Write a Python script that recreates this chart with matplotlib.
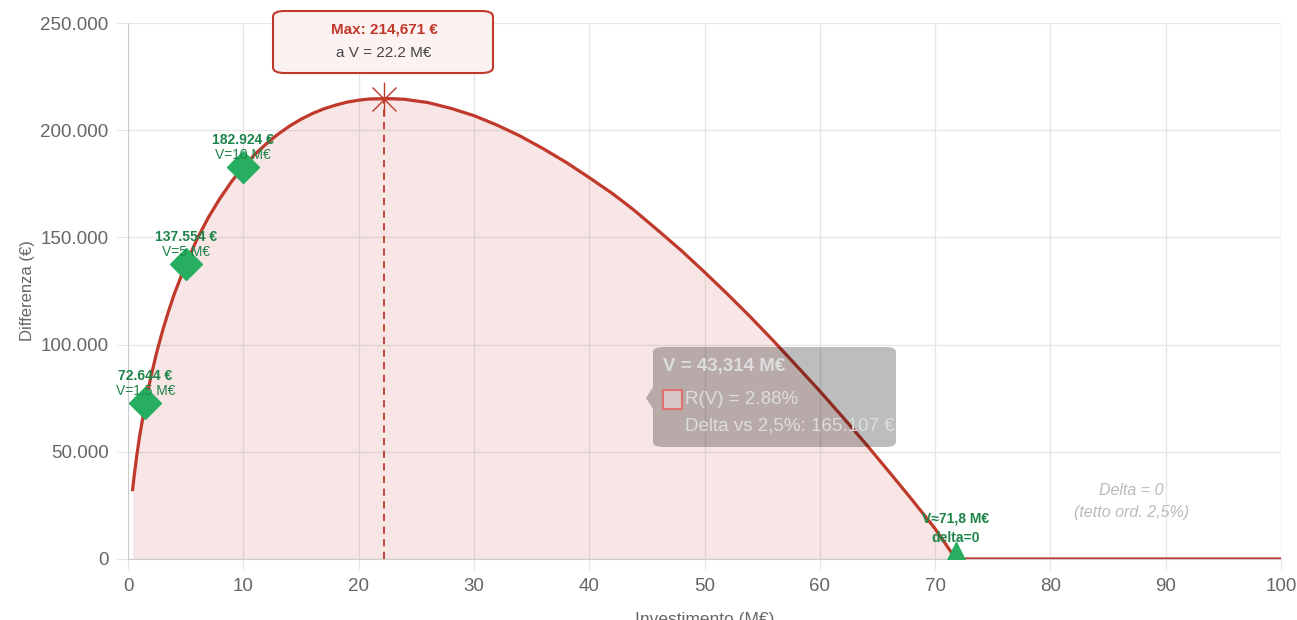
import numpy as np
import matplotlib.pyplot as plt
from matplotlib.patches import FancyBboxPatch
from matplotlib.ticker import FuncFormatter

plt.rcParams['font.family'] = ['Liberation Sans', 'DejaVu Sans']

# curve: investment (M€) -> difference (€)
inv = [0.4, 0.5, 0.75, 1, 1.5, 2, 2.5, 3, 3.5, 4, 5, 6, 7, 8, 9, 10,
       11, 12, 13, 14, 15, 16, 17, 18, 19, 20, 21, 22.2, 23, 24, 26, 28, 30,
       32, 34, 36, 38, 40, 42, 43.314, 44, 46, 48, 50, 52, 54, 56, 58, 60,
       62, 64, 66, 68, 70, 71.8,
       75, 80, 85, 90, 95, 100]
diff = [32400, 37300, 47900, 57100, 72600, 85400, 96600, 106500, 115300, 123400,
        137400, 149400, 159600, 168400, 176200, 182900,
        188700, 193700, 198100, 201900, 205100, 207800, 210000, 211700, 213100,
        214000, 214600, 214700, 214700, 214400, 212900, 210200, 206800,
        202400, 197300, 191400, 185000, 177900, 170500, 165107, 162200, 153100,
        143800, 133800, 123500, 112800, 101600, 90000, 78300,
        66100, 53600, 40700, 27600, 14100, 0,
        0, 0, 0, 0, 0, 0]

# highlighted points
pt_v = [1.5, 5, 10]
pt_d = [72644, 137554, 182924]
pt_val_lbl = ['72.644 €', '137.554 €', '182.924 €']
pt_v_lbl = ['V=1,5 M€', 'V=5 M€', 'V=10 M€']

zero_v = 71.8
max_v, max_d = 22.2, 214671
tip_v, tip_d = 43.314, 165107

red = '#c0392b'
green = '#27ae60'
dgreen = '#1e8449'
grid = '#e6e6e6'

fig = plt.figure(figsize=(12.97, 6.2), dpi=100)
ax = fig.add_axes([0.0987, 0.0984, 0.889, 0.8645])

inv = np.array(inv)
diff = np.array(diff)
pos = inv <= zero_v
ax.fill_between(inv[pos], 0, diff[pos], color=red, alpha=0.12, lw=0, zorder=1)
ax.plot(inv, diff, color=red, lw=2.3, zorder=3, solid_joinstyle='round')

# max marker + dashed line
ax.plot([max_v, max_v], [0, max_d], color=red, lw=1.3, ls=(0, (4, 3)), zorder=2)
ax.plot(max_v, max_d, marker='+', ms=24, mew=1, color=red, zorder=4)
ax.plot(max_v, max_d, marker='x', ms=17, mew=1, color=red, zorder=4)

# max box (figure level so it sits above the plot)
mx = 0.0987 + 0.889 * max_v / 100
box = FancyBboxPatch((273 / 1297, (620 - 73) / 620), 220 / 1297, 62 / 620,
                     boxstyle='round,pad=0,rounding_size=0.009', transform=fig.transFigure,
                     facecolor='#fdf2f2', edgecolor=red, lw=1.5, zorder=5)
fig.patches.append(box)
fig.text(mx, (620 - 29) / 620, 'Max: 214,671 €', ha='center', va='center',
         fontsize=11, fontweight='bold', color=red, zorder=6)
fig.text(mx, (620 - 53) / 620, 'a V = 22.2 M€', ha='center', va='center',
         fontsize=11, color='#444444', zorder=6)

# green points
ax.plot(pt_v, pt_d, ls='none', marker='D', ms=16, color=green, zorder=5)
for v, d, a, b in zip(pt_v, pt_d, pt_val_lbl, pt_v_lbl):
    ax.annotate(a, (v, d), xytext=(0, 27), textcoords='offset pixels', ha='center',
                va='center', fontsize=10, fontweight='bold', color=dgreen, zorder=6)
    ax.annotate(b, (v, d), xytext=(0, 12), textcoords='offset pixels', ha='center',
                va='center', fontsize=10, color=dgreen, zorder=6)

ax.plot(zero_v, 0, marker='^', ms=25, color=green, zorder=5, clip_on=True)
ax.annotate('V≈71,8 M€', (zero_v, 0), xytext=(0, 40), textcoords='offset pixels',
            ha='center', va='center', fontsize=10, fontweight='bold', color=dgreen, zorder=6)
ax.annotate('delta=0', (zero_v, 0), xytext=(0, 21), textcoords='offset pixels',
            ha='center', va='center', fontsize=10, fontweight='bold', color=dgreen, zorder=6)

ax.text(87, 32000, 'Delta = 0', ha='center', va='center', fontsize=11.5,
        style='italic', color='#bbbbbb')
ax.text(87, 21500, '(tetto ord. 2,5%)', ha='center', va='center', fontsize=11.5,
        style='italic', color='#bbbbbb')

# tooltip
tip = FancyBboxPatch((653 / 1297, (620 - 447) / 620), 243 / 1297, 100 / 620,
                     boxstyle='round,pad=0,rounding_size=0.008', transform=fig.transFigure,
                     facecolor='black', alpha=0.26, lw=0, zorder=7)
fig.patches.append(tip)
fig.patches.append(plt.Polygon([[653 / 1297, 211 / 620], [646 / 1297, 222 / 620],
                                [653 / 1297, 233 / 620]], closed=True,
                               transform=fig.transFigure, facecolor='black', alpha=0.26,
                               lw=0, zorder=7))
fig.text(663 / 1297, (620 - 367) / 620, 'V = 43,314 M€', ha='left', va='center',
         fontsize=13.5, fontweight='bold', color='#dddddd', zorder=8)
fig.patches.append(FancyBboxPatch((663 / 1297, (620 - 409) / 620), 19 / 1297, 19 / 620,
                                  boxstyle='square,pad=0', transform=fig.transFigure,
                                  facecolor='#d8c8c8', edgecolor='#e07070', lw=1.5,
                                  zorder=8))
fig.text(685 / 1297, (620 - 399) / 620, 'R(V) = 2.88%', ha='left', va='center',
         fontsize=13.5, color='#dddddd', zorder=8)
fig.text(685 / 1297, (620 - 426) / 620, 'Delta vs 2,5%: 165.107 €', ha='left',
         va='center', fontsize=13.5, color='#dddddd', zorder=8)

ax.set_xlim(0, 100)
ax.set_ylim(0, 250000)
ax.set_xticks(np.arange(0, 101, 10))
ax.set_yticks(np.arange(0, 250001, 50000))
ax.yaxis.set_major_formatter(FuncFormatter(lambda y, p: f'{int(y):,}'.replace(',', '.')))
ax.grid(True, color=grid, lw=1, zorder=0)
ax.set_axisbelow(True)
for s in ['top', 'right']:
    ax.spines[s].set_visible(False)
for s in ['left', 'bottom']:
    ax.spines[s].set_color('#cccccc')
ax.tick_params(length=8, color=grid, labelsize=13.5, labelcolor='#666666', pad=6)
ax.set_ylabel('Differenza (€)', fontsize=12, color='#666666', labelpad=4)
ax.set_xlabel('Investimento (M€)', fontsize=12.5, color='#666666', labelpad=12)

fig.savefig('out.png', dpi=100)
